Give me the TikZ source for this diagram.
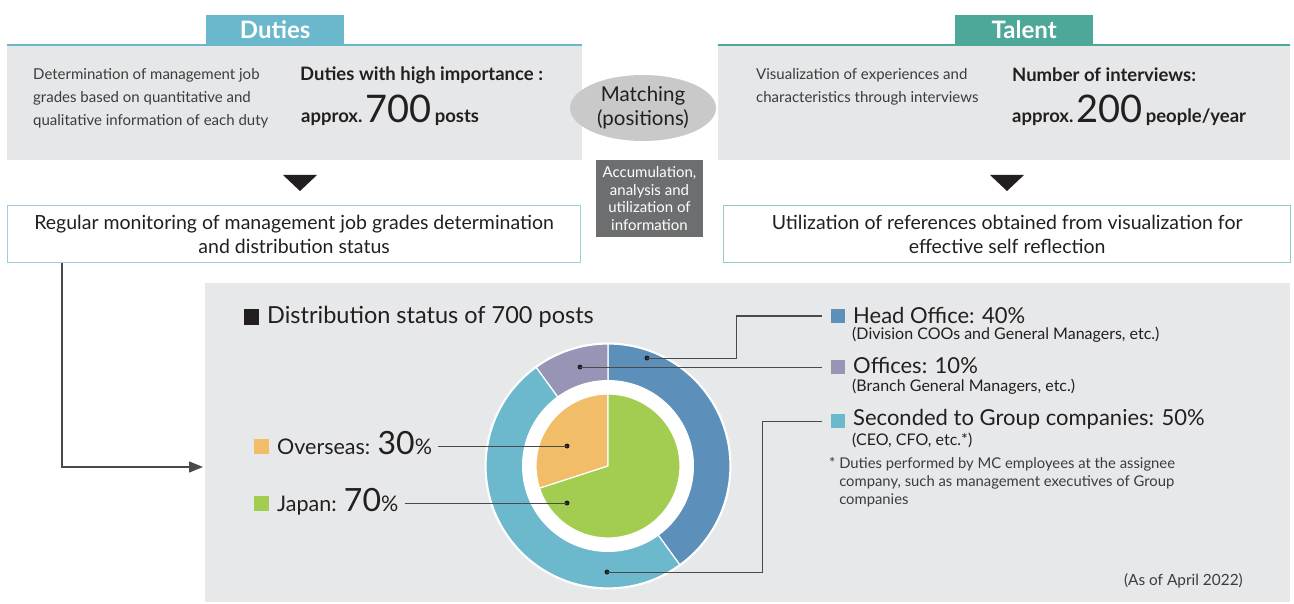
\documentclass[tikz,border=0pt]{standalone}
\usepackage{fontspec}
\setmainfont{Lato}
\usetikzlibrary{arrows.meta,calc,shapes.geometric}
\definecolor{dutiesC}{HTML}{6BB7CC}
\definecolor{talentC}{HTML}{4EA899}
\definecolor{greyC}{HTML}{E6E7E8}
\definecolor{panelC}{HTML}{E7E8E9}
\definecolor{matchC}{HTML}{C9C9CA}
\definecolor{darkC}{HTML}{6D6E70}
\definecolor{monC}{HTML}{9BD0DC}
\definecolor{reflC}{HTML}{8FD0BC}
\definecolor{hoC}{HTML}{5C8FB9}
\definecolor{offC}{HTML}{9794B6}
\definecolor{secC}{HTML}{6CB9CD}
\definecolor{ovC}{HTML}{F1BD69}
\definecolor{jpC}{HTML}{A3CD50}
\definecolor{txtC}{HTML}{231F20}
\definecolor{lightTxt}{HTML}{3C3C3C}
\definecolor{lineC}{HTML}{4A4A4A}
\begin{document}
\begin{tikzpicture}[x=1pt,y=-1pt,
  greybox/.style={fill=greyC, inner sep=0pt, anchor=north west, minimum width=#1, minimum height=115pt},
  tabbox/.style={fill=#1, text=white, inner sep=0pt, anchor=south west, minimum width=138pt, minimum height=30pt, font=\fontsize{24pt}{24pt}\selectfont\bfseries},
  body/.style={inner sep=0pt, text=lightTxt, align=left, font=\fontsize{15pt}{23pt}\selectfont},
  boldtxt/.style={inner sep=0pt, text=txtC, font=\fontsize{18.5pt}{20pt}\selectfont\bfseries},
  outbox/.style={draw=#1, line width=1.3pt, fill=white, anchor=north west, minimum height=57pt, inner sep=0pt, align=center, text=txtC, font=\fontsize{19.5pt}{24pt}\selectfont},
  tri/.style={fill=txtC},
  conn/.style={draw=lineC, line width=1.4pt, -{Triangle[length=14pt,width=11pt]}},
  lead/.style={draw=lineC, line width=1pt},
  dot/.style={circle, fill=txtC, inner sep=0pt, minimum size=5pt},
  legsq/.style={fill=#1, inner sep=0pt, minimum size=14pt},
  legtxt/.style={inner sep=0pt, anchor=west, text=txtC, font=\fontsize{22pt}{22pt}\selectfont},
  legsub/.style={inner sep=0pt, anchor=west, text=txtC, font=\fontsize{16pt}{18pt}\selectfont},
  wedge/.style={fill=#1, draw=white, line width=1.2pt}
]
\useasboundingbox (0,0) rectangle (1294,604);
\fill[white] (0,0) rectangle (1294,604);

% ---- Duties block
\node[greybox=575pt] (dutiesBox) at (7,45) {};
\node[tabbox=dutiesC] (dutiesTab) at (206,45) {Duties};
\draw[dutiesC, line width=2.5pt] (dutiesBox.north west) -- (dutiesBox.north east);
\node[body, anchor=west] (dutiesDesc) at (33,98) {Determination of management job\\grades based on quantitative and\\qualitative information of each duty};
\node[boldtxt, anchor=west] (dutiesHead) at (300,75) {Duties with high importance :};
\node[boldtxt, anchor=base west] (dutiesNum) at (301,123) {approx.\,{\fontsize{38pt}{38pt}\selectfont\mdseries 700}\,posts};

% ---- Talent block
\node[greybox=572pt] (talentBox) at (718,45) {};
\node[tabbox=talentC] (talentTab) at (955,45) {Talent};
\draw[talentC, line width=2.5pt] (talentBox.north west) -- (talentBox.north east);
\node[body, anchor=west] (talentDesc) at (756,86.5) {Visualization of experiences and\\characteristics through interviews};
\node[boldtxt, anchor=west] (talentHead) at (1012,75) {Number of interviews:};
\node[boldtxt, anchor=base west] (talentNum) at (1012,123) {approx.\,{\fontsize{38pt}{38pt}\selectfont\mdseries 200}\,people/year};

% ---- Matching
\node[ellipse, fill=matchC, inner sep=0pt, minimum width=146pt, minimum height=66pt, align=center, text=txtC, font=\fontsize{20.5pt}{24pt}\selectfont] (match) at (643,108) {Matching\\(positions)};
\node[fill=darkC, inner sep=0pt, minimum width=107pt, minimum height=77pt, align=center, text=white, font=\fontsize{15pt}{17.5pt}\selectfont] (accum) at (649.5,198.5) {Accumulation,\\analysis and\\utilization of\\information};

% ---- triangles
\fill[tri] (283,175) -- (317,175) -- (300,191) -- cycle;
\fill[tri] (990,175) -- (1024,175) -- (1007,191) -- cycle;

% ---- outcome boxes
\node[outbox=monC, minimum width=573pt] (mon) at (7,205) {Regular monitoring of management job grades determination\\and distribution status};
\node[outbox=reflC, minimum width=567pt] (refl) at (723,205) {Utilization of references obtained from visualization for\\effective self reflection};

% ---- panel
\node[fill=panelC, inner sep=0pt, anchor=north west, minimum width=1085pt, minimum height=319pt] (panel) at (205,283) {};
\coordinate (arrowEnd) at (203,467);
\draw[conn] ([xshift=55pt]mon.south west) |- (arrowEnd);

% title
\node[fill=txtC, inner sep=0pt, minimum size=15pt] (titleSq) at (251,317) {};
\node[inner sep=0pt, anchor=west, text=txtC, font=\fontsize{23.5pt}{23.5pt}\selectfont] (title) at (267,317) {Distribution status of 700 posts};

% ---- donut
\coordinate (c) at (608,466);
\fill[white] (c) circle[radius=123.5pt];
\filldraw[wedge=hoC] (c) -- ++(90:122pt) arc[start angle=90, end angle=-54, radius=122pt] -- cycle;
\filldraw[wedge=secC] (c) -- ++(-54:122pt) arc[start angle=-54, end angle=-234, radius=122pt] -- cycle;
\filldraw[wedge=offC] (c) -- ++(126:122pt) arc[start angle=126, end angle=90, radius=122pt] -- cycle;
\fill[white] (c) circle[radius=86pt];
\filldraw[wedge=ovC] (c) -- ++(90:72pt) arc[start angle=90, end angle=198, radius=72pt] -- cycle;
\filldraw[wedge=jpC] (c) -- ++(198:72pt) arc[start angle=198, end angle=450, radius=72pt] -- cycle;

% dots
\node[dot] (hoDot) at (647,358) {};
\node[dot] (offDot) at (580,367) {};
\node[dot] (secDot) at (607,572) {};
\node[dot] (ovDot) at (567,446) {};
\node[dot] (jpDot) at (567,503) {};

% right legend
\node[legsq=hoC] (hoSq) at (838,316) {};
\node[legtxt] (hoLab) at (853,315) {Head Office: 40\%};
\node[legsub] (hoSub) at (852,335) {(Division COOs and General Managers, etc.)};
\node[legsq=offC] (offSq) at (838,367) {};
\node[legtxt] (offLab) at (853,366) {Offices: 10\%};
\node[legsub] (offSub) at (852,387) {(Branch General Managers, etc.)};
\node[legsq=secC] (secSq) at (838,421) {};
\node[legtxt] (secLab) at (853,419) {Seconded to Group companies: 50\%};
\node[legsub] (secSub) at (852,440) {(CEO, CFO, etc.*)};
\node[inner sep=0pt, anchor=north west, align=left, text=lightTxt, font=\fontsize{14.8pt}{18pt}\selectfont] (foot) at (829,457) {*\ Duties performed by MC employees at the assignee\\\phantom{*}\ company, such as management executives of Group\\\phantom{*}\ companies};

\draw[lead] (hoDot.center) -- (736,358) |- ([xshift=-9pt]hoSq.west);
\draw[lead] (offDot.center) -- ([xshift=-9pt]offSq.west |- offDot);
\draw[lead] (secDot.center) -- (762,572) |- ([xshift=-9pt]secSq.west);

% left legend
\node[legsq=ovC, minimum size=15pt] (ovSq) at (261,446) {};
\node[inner sep=0pt, anchor=base west, text=txtC, font=\fontsize{21.5pt}{21.5pt}\selectfont] (ovLab) at (277,454) {Overseas: {\fontsize{32pt}{32pt}\selectfont 30}\%};
\node[legsq=jpC, minimum size=15pt] (jpSq) at (261,503) {};
\node[inner sep=0pt, anchor=base west, text=txtC, font=\fontsize{21.5pt}{21.5pt}\selectfont] (jpLab) at (277,511) {Japan: {\fontsize{32pt}{32pt}\selectfont 70}\%};
\draw[lead] ([xshift=6pt]ovLab.east |- ovDot) -- (ovDot.center);
\draw[lead] ([xshift=6pt]jpLab.east |- jpDot) -- (jpDot.center);

\node[inner sep=0pt, anchor=east, text=lightTxt, font=\fontsize{15.4pt}{15.4pt}\selectfont] (asof) at (1243,581) {(As of April 2022)};
\end{tikzpicture}
\end{document}
